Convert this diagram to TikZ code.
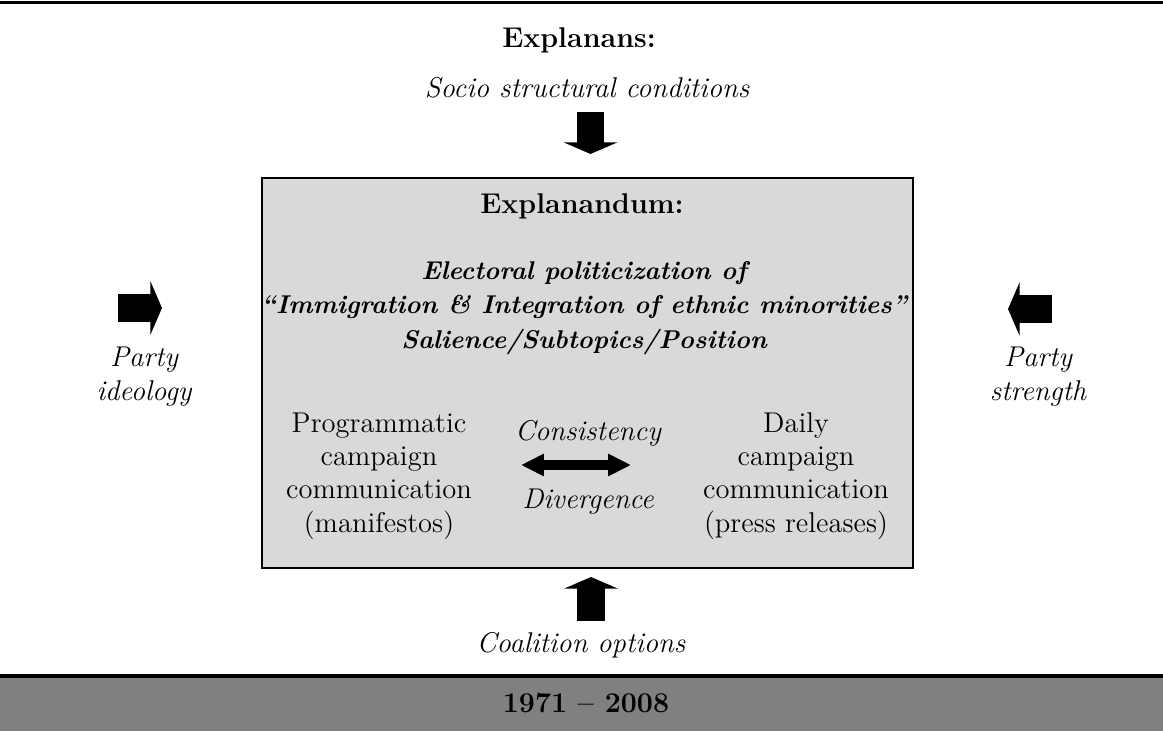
\documentclass[tikz,border=0pt]{standalone}
\usepackage{tikz}
\usetikzlibrary{arrows.meta}
\definecolor{boxgray}{HTML}{D9D9D9}
\definecolor{bandgray}{HTML}{808080}

\begin{document}
\begin{tikzpicture}[x=0.42pt,y=-0.42pt,
    txt/.style={anchor=base,inner sep=0pt,align=center,font=\fontsize{12}{14}\selectfont},
    itxt/.style={txt,font=\fontsize{12}{14}\selectfont\itshape},
    btxt/.style={txt,font=\fontsize{12}{14}\selectfont\bfseries},
    mainbox/.style={draw,fill=boxgray,line width=0.9pt,minimum width=273.4pt,minimum height=163.8pt,inner sep=0pt},
    blockarrow/.style={line width=11.5pt,-{Triangle[width=22.5pt,length=4.9pt]}},
    dblarrow/.style={line width=3.8pt,{Triangle[width=8.8pt,length=9.6pt]}-{Triangle[width=8.8pt,length=9.6pt]}}]
  \useasboundingbox (0,0) rectangle (1163,731);

  % top rule and period band
  \fill[bandgray] (0,676) rectangle (1163,731);
  \draw[line width=1.3pt] (0,676) -- (1163,676);
  \draw[line width=1.5pt] (0,2.5) -- (1163,2.5);

  % explanandum box
  \node[mainbox] (box) at (587.5,373) {};

  % multi-line nodes sit on the baseline of their last line
  \node[btxt] (explanans) at (579,48) {Explanans:};
  \node[itxt] (socio) at (587,98) {Socio structural conditions};
  \node[btxt] (explanandum) at (582,214) {Explanandum:};
  \node[txt,font=\fontsize{10.8}{14.3}\selectfont\bfseries\itshape] (topic) at (584,348)
    {Electoral politicization of\\“Immigration \& Integration of ethnic minorities”\\Salience/Subtopics/Position};

  \node[txt] (manif) at (379,532) {Programmatic\\campaign\\communication\\(manifestos)};
  \node[txt] (press) at (796,532) {Daily\\campaign\\communication\\(press releases)};
  \node[itxt] (consist) at (588,440) {Consistency};
  \node[itxt] (diverg) at (588,508) {Divergence};

  \node[itxt] (ideology) at (144,400) {Party\\ideology};
  \node[itxt] (strength) at (1038,400) {Party\\strength};
  \node[itxt] (coalition) at (581,652) {Coalition options};
  \node[btxt] (period) at (586,712) {1971 -- 2008};

  % arrow ends
  \coordinate (dn1) at (590.5,112); \coordinate (dn2) at (590.5,154);
  \coordinate (up1) at (591,621);   \coordinate (up2) at (591,577);
  \coordinate (lf1) at (118,308);   \coordinate (lf2) at (162,308);
  \coordinate (rt1) at (1052,309);  \coordinate (rt2) at (1008,309);
  \coordinate (cl) at (521,465);    \coordinate (cr) at (631,465);

  \draw[blockarrow] (dn1) -- (dn2);
  \draw[blockarrow] (up1) -- (up2);
  \draw[blockarrow] (lf1) -- (lf2);
  \draw[blockarrow] (rt1) -- (rt2);
  \draw[dblarrow] (cl) -- (cr);
\end{tikzpicture}
\end{document}
